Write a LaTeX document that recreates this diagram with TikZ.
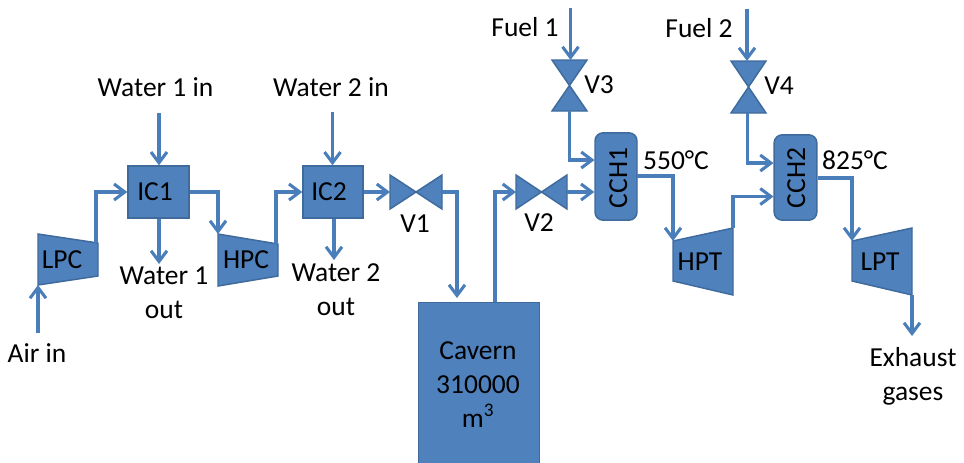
\documentclass[tikz,border=0pt]{standalone}
\usepackage{fontspec}
\setmainfont{Carlito}
\usetikzlibrary{arrows.meta}
\definecolor{unitfill}{HTML}{4F81BD}
\definecolor{unitedge}{HTML}{3F6A9C}
\definecolor{pipe}{HTML}{4A7EBB}
\tikzset{
  x=0.75pt,y=-0.75pt,
  unit/.style={draw=unitedge,fill=unitfill,line width=1.1pt,line join=miter},
  box/.style={unit,rectangle,inner sep=0pt},
  valvebox/.style={rectangle,inner sep=0pt,outer sep=0pt},
  pipeline/.style={draw=pipe,line width=2.3pt,-{Straight Barb[length=8pt,width=12pt,line width=2.3pt]}},
  txt/.style={font=\fontsize{20.6}{25.5}\selectfont,text=black,inner sep=0pt,anchor=base,align=center},
}
\newcommand{\hvalve}[1]{\path[unit] (#1.north west)--(#1.south east)--(#1.north east)--(#1.south west)--cycle;}
\newcommand{\vvalve}[1]{\path[unit] (#1.north west)--(#1.north east)--(#1.south west)--(#1.south east)--cycle;}
\begin{document}
\begin{tikzpicture}
\useasboundingbox (0,0) rectangle (964,462);
% process units
\node[box,minimum width=45.75pt,minimum height=39pt] (ic1) at (158.5,192) {};
\node[box,minimum width=45pt,minimum height=39pt] (ic2) at (333,192) {};
\node[box,minimum width=90.5pt,minimum height=125pt,anchor=north west] (cavern) at (418,302) {};
\node[box,rounded corners=6pt,minimum width=31.5pt,minimum height=65.5pt] (cch1) at (616,176.5) {};
\node[box,rounded corners=6pt,minimum width=32pt,minimum height=64pt] (cch2) at (795.5,177.5) {};
% valves
\node[valvebox,minimum width=39pt,minimum height=25.5pt] (v1) at (416,192) {};
\node[valvebox,minimum width=38.25pt,minimum height=25.5pt] (v2) at (541.5,192) {};
\node[valvebox,minimum width=26.25pt,minimum height=38.25pt] (v3) at (569.5,85.5) {};
\node[valvebox,minimum width=26.25pt,minimum height=39pt] (v4) at (748.5,87) {};
\hvalve{v1}\hvalve{v2}\vvalve{v3}\vvalve{v4}
% compressors and turbines
\path[unit] (38,234) coordinate (lpcA) -- (98,243) coordinate (lpcB) -- (98,276) -- (38,285) coordinate (lpcD) -- cycle;
\path[unit] (218,234) coordinate (hpcA) -- (278,244) coordinate (hpcB) -- (278,276) -- (218,286) -- cycle;
\path[unit] (673,241) coordinate (hptA) -- (733,228) coordinate (hptB) -- (733,295) -- (673,281) -- cycle;
\path[unit] (852,241) coordinate (lptA) -- (912,228) -- (912,295) coordinate (lptC) -- (852,281) -- cycle;
% free connector ends
\coordinate (airin) at (38,333);
\coordinate (w1in) at (159,113);
\coordinate (w1out) at (159,264);
\coordinate (w2in) at (332.5,112);
\coordinate (w2out) at (334,260);
\coordinate (fuel1) at (570.5,8);
\coordinate (fuel2) at (747,9);
\coordinate (exhaust) at (912,336);
% connectors
\draw[pipeline] (airin) -- (lpcD);
\draw[pipeline] ([xshift=-1.5pt]lpcB) |- (ic1.west);
\draw[pipeline] (w1in) -- (w1in |- ic1.north);
\draw[pipeline] (ic1.east) -| (hpcA);
\draw[pipeline] (w1out |- ic1.south) -- (w1out);
\draw[pipeline] ([xshift=-1.5pt]hpcB) |- (ic2.west);
\draw[pipeline] (w2in) -- (w2in |- ic2.north);
\draw[pipeline] (w2out |- ic2.south) -- (w2out);
\draw[pipeline] (ic2.east) -- (v1.west);
\draw[pipeline] (v1.east) -| (457,298) coordinate (cavin);
\draw[pipeline] (495,302) coordinate (cavout) |- (v2.west);
\draw[pipeline] (v2.east) -- (v2.east -| cch1.west);
\draw[pipeline] (fuel1) -- (fuel1 |- v3.north);
\draw[pipeline] (v3.south) |- (594.5,160);
\draw[pipeline] (637,176) -| (hptA);
\draw[pipeline] (hptB) |- (773.5,196.5);
\draw[pipeline] (fuel2) -- (fuel2 |- v4.north);
\draw[pipeline] ([xshift=-1pt]v4.south) |- (773.5,163);
\draw[pipeline] (817.5,178) -| (lptA);
\draw[pipeline] (lptC) -- (exhaust);
% labels
\node[txt] (lw1i) at (155.5,96) {Water 1 in};
\node[txt] (lw2i) at (331,96) {Water 2 in};
\node[txt] (lf1) at (525,36) {Fuel 1};
\node[txt] (lf2) at (699,37) {Fuel 2};
\node[txt] (lv1) at (415,232) {V1};
\node[txt] (lv2) at (539,231) {V2};
\node[txt] (lv3) at (599,93) {V3};
\node[txt] (lv4) at (779,94) {V4};
\node[txt] (lic1) at (155,200) {IC1};
\node[txt] (lic2) at (329,200) {IC2};
\node[txt,rotate=90] (lc1) at (627,178) {CCH1};
\node[txt,rotate=90] (lc2) at (805,178) {CCH2};
\node[txt] (lt1) at (676,169) {550°C};
\node[txt] (lt2) at (855,169) {825°C};
\node[txt] (llpc) at (62,268) {LPC};
\node[txt] (lhpc) at (246,268) {HPC};
\node[txt] (lhpt) at (700,270) {HPT};
\node[txt] (llpt) at (880,270) {LPT};
\node[txt] (lair) at (37,362) {Air in};
\node[txt] (lw1o) at (164,318) {Water 1\\out};
\node[txt] (lw2o) at (336,315) {Water 2\\out};
\node[txt] (lcav) at (478,427) {Cavern\\310000\\m\textsuperscript{3}};
\node[txt] (lexh) at (913,400) {Exhaust\\gases};
\end{tikzpicture}
\end{document}
